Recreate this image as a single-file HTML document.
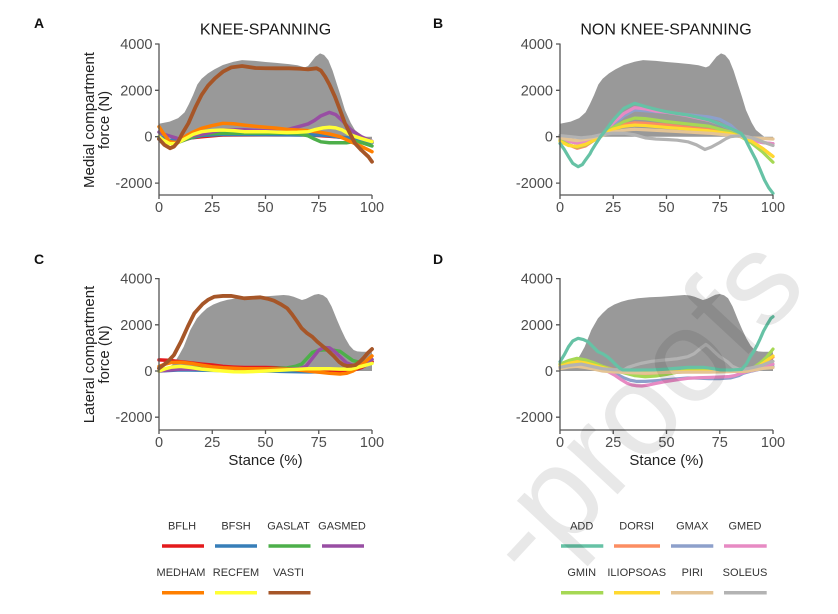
<!DOCTYPE html>
<html><head><meta charset="utf-8"><style>
html,body{margin:0;padding:0;background:#fff;width:838px;height:614px;overflow:hidden;}
svg{display:block;overflow:hidden;}
text{font-family:"Liberation Sans",Arial,sans-serif;}
.tk{font-size:14.5px;fill:#4d4d4d;}
.ax{stroke:#555;stroke-width:1.3;fill:none;}
.ln{fill:none;stroke-linejoin:round;stroke-linecap:round;}
.lg{font-size:11px;fill:#333;text-anchor:middle;}
</style></head><body>
<svg width="838" height="614" viewBox="0 0 838 614" xmlns="http://www.w3.org/2000/svg">
<rect width="838" height="614" fill="#fff"/>

<!-- Panel letters & titles -->
<text x="34" y="28" font-size="14" font-weight="bold" fill="#111">A</text>
<text x="433" y="28" font-size="14" font-weight="bold" fill="#111">B</text>
<text x="34" y="264" font-size="14" font-weight="bold" fill="#111">C</text>
<text x="433" y="264" font-size="14" font-weight="bold" fill="#111">D</text>
<text x="265.5" y="34.3" font-size="16" text-anchor="middle" fill="#1a1a1a">KNEE-SPANNING</text>
<text x="666" y="34.3" font-size="16" text-anchor="middle" fill="#1a1a1a">NON KNEE-SPANNING</text>

<!-- Y axis titles -->
<text transform="translate(94,120) rotate(-90)" font-size="15" text-anchor="middle" fill="#222">Medial compartment</text>
<text transform="translate(109,120) rotate(-90)" font-size="15" text-anchor="middle" fill="#222">force (N)</text>
<text transform="translate(94,354.5) rotate(-90)" font-size="15" text-anchor="middle" fill="#222">Lateral compartment</text>
<text transform="translate(109,354.5) rotate(-90)" font-size="15" text-anchor="middle" fill="#222">force (N)</text>

<!-- X axis titles -->
<text x="265.5" y="465" font-size="15" text-anchor="middle" fill="#222">Stance (%)</text>
<text x="666.5" y="465" font-size="15" text-anchor="middle" fill="#222">Stance (%)</text>

<!-- ============ PANEL A ============ -->
<g transform="translate(159,136.7) scale(2.13,-0.0232)">
<polygon fill="#999" points="0,0 0,560 5,650 9,800 12,1050 14,1400 16,1800 18,2250 20,2500 23,2730 26,2900 30,3090 35,3230 39,3300 45,3270 50,3220 55,3180 61,3130 65,3080 68.5,2990 70,3050 71.6,3230 73.5,3450 75.6,3594 77.5,3520 79.5,3300 81.5,2850 83.4,2300 85.5,1700 87.3,1150 90,600 92,290 95,60 96,0 96,-100 100,-100 100,0"/>
<polyline vector-effect="non-scaling-stroke" class="ln" stroke="#e41a1c" stroke-width="3.5" points="0,-100 5,-250 10,-200 15,-50 20,0 30,80 50,100 70,80 80,20 85,-20 90,-100 100,-250"/>
<polyline vector-effect="non-scaling-stroke" class="ln" stroke="#377eb8" stroke-width="3.5" points="0,0 5,-150 10,-150 15,-50 20,50 30,100 50,100 65,80 70,80 78,60 85,-20 90,-60 95,-150 100,-250"/>
<polyline vector-effect="non-scaling-stroke" class="ln" stroke="#4daf4a" stroke-width="3.5" points="0,-50 3,-200 6,-300 9,-250 13,-100 18,50 22,120 30,150 40,150 50,150 60,150 66,120 70,40 73,-100 76,-220 80,-260 88,-260 92,-200 96,-280 100,-400"/>
<polyline vector-effect="non-scaling-stroke" class="ln" stroke="#984ea3" stroke-width="3.5" points="0,200 3,80 6,0 9,-80 12,-50 16,50 20,100 25,200 30,300 40,300 50,250 55,260 60,300 65,420 70,550 73,700 76,900 80,1050 83,950 86,700 90,300 95,0 100,-200"/>
<polyline vector-effect="non-scaling-stroke" class="ln" stroke="#ff7f00" stroke-width="3.5" points="0,431 2,150 5,-215 8,-250 10,-150 13,50 16,200 20,360 25,480 30,577 35,560 40,500 45,450 50,405 55,370 60,318 65,290 70,260 75,200 80,116 85,0 90,-215 95,-420 100,-647"/>
<polyline vector-effect="non-scaling-stroke" class="ln" stroke="#ffff33" stroke-width="3.5" points="0,0 2,-150 5,-300 8,-300 10,-200 13,-50 16,100 20,216 25,270 30,290 35,260 40,216 50,216 60,180 65,190 70,216 73,300 77,380 80,405 83,380 86,290 90,72 95,-80 100,-215"/>
<polyline vector-effect="non-scaling-stroke" class="ln" stroke="#a65628" stroke-width="3.8" points="0,-100 2.5,-350 5.2,-500 7,-430 9,-215 11,150 13.8,577 17,1250 20,1800 23,2200 26.3,2517 30,2800 34,2990 39,3047 45.3,2960 50,2950 55,2948 61,2948 66,2930 70,2905 74,2948 76,2850 78,2586 80,2250 82.6,1724 85,1150 87.3,577 90,80 92,-284 95,-580 98.3,-862 100,-1078"/>
</g>
<path class="ax" d="M159,43.5 V195 H372 M155,44 H159 M155,90.3 H159 M155,136.7 H159 M155,183.1 H159 M159,195 V199 M212.25,195 V199 M265.5,195 V199 M318.75,195 V199 M372,195 V199"/>
<g class="tk" text-anchor="end">
<text x="152.5" y="49">4000</text><text x="152.5" y="95.3">2000</text><text x="152.5" y="141.7">0</text><text x="152.5" y="188">-2000</text>
</g>
<g class="tk" text-anchor="middle">
<text x="159" y="212">0</text><text x="212.25" y="212">25</text><text x="265.5" y="212">50</text><text x="318.75" y="212">75</text><text x="372" y="212">100</text>
</g>

<!-- ============ PANEL B ============ -->
<g transform="translate(560,136.7) scale(2.13,-0.0232)">
<polygon fill="#999" points="0,0 0,560 5,650 9,800 12,1050 14,1400 16,1800 18,2250 20,2500 23,2730 26,2900 30,3090 35,3230 39,3300 45,3270 50,3220 55,3180 61,3130 65,3080 68.5,2990 70,3050 71.6,3230 73.5,3450 75.6,3594 77.5,3520 79.5,3300 81.5,2850 83.4,2300 85.5,1700 87.3,1150 90,600 92,290 95,60 96,0 96,-100 100,-100 100,0"/>
<polyline vector-effect="non-scaling-stroke" class="ln" stroke="#fc8d62" stroke-width="3.2" points="0,-150 4,-350 8,-500 12,-400 16,-150 19,0 22,200 25,350 30,520 35,600 40,580 50,500 60,400 70,300 80,150 85,0 90,-200 95,-500 100,-850"/>
<polyline vector-effect="non-scaling-stroke" class="ln" stroke="#8da0cb" stroke-width="3.2" points="0,-50 4,-200 8,-280 12,-250 16,-100 19,0 22,250 25,500 30,900 35,1150 40,1120 45,1080 50,1050 55,1000 60,950 65,900 70,850 75,750 80,500 83,250 86,0 90,-150 95,-250 100,-300"/>
<polyline vector-effect="non-scaling-stroke" class="ln" stroke="#e78ac3" stroke-width="3.2" points="0,-50 4,-200 8,-280 12,-250 16,-100 19,0 22,300 25,600 30,1000 35,1250 40,1200 45,1100 50,1050 55,980 60,900 65,800 70,700 75,550 80,350 83,180 86,0 90,-150 95,-250 100,-300"/>
<polyline vector-effect="non-scaling-stroke" class="ln" stroke="#a6d854" stroke-width="3.2" points="0,-150 4,-350 8,-450 12,-350 16,-150 19,0 22,250 25,400 30,650 35,800 40,780 50,650 60,550 70,450 80,200 85,0 90,-280 95,-650 100,-1100"/>
<polyline vector-effect="non-scaling-stroke" class="ln" stroke="#ffd92f" stroke-width="3.2" points="0,-200 4,-380 8,-420 12,-330 16,-150 19,0 22,200 25,330 30,450 35,500 40,480 50,400 60,330 70,250 80,130 85,0 90,-200 95,-500 100,-850"/>
<polyline vector-effect="non-scaling-stroke" class="ln" stroke="#e5c494" stroke-width="3.2" points="0,-50 4,-120 8,-170 12,-120 16,-30 19,40 25,200 30,280 35,320 40,300 50,250 60,200 70,150 80,60 85,0 90,-50 95,-80 100,-100"/>
<polyline vector-effect="non-scaling-stroke" class="ln" stroke="#b3b3b3" stroke-width="3.2" points="0,50 5,0 10,-50 15,0 20,100 25,150 30,150 35,80 40,-50 45,-100 50,-120 55,-150 60,-220 64,-350 68,-550 71,-450 75,-250 78,-80 80,0 85,50 88,0 92,-100 96,-250 100,-380"/>
<polyline vector-effect="non-scaling-stroke" class="ln" stroke="#66c2a5" stroke-width="3.2" points="0,-290 2,-550 4,-862 6,-1150 8.5,-1293 10.5,-1200 12,-1000 14,-750 15,-575 17,-280 19,0 22,350 25,720 30,1222 35,1440 40,1300 45,1180 50,1078 55,1000 60,935 65,830 70,720 75,550 80,360 83,230 85,144 87,-100 88,-290 90,-650 92,-1000 94,-1430 96,-1868 98,-2200 100,-2440"/>
</g>
<path class="ax" d="M560,43.5 V195 H773 M556,44 H560 M556,90.3 H560 M556,136.7 H560 M556,183.1 H560 M560,195 V199 M613.25,195 V199 M666.5,195 V199 M719.75,195 V199 M773,195 V199"/>
<g class="tk" text-anchor="end">
<text x="553" y="49">4000</text><text x="553" y="95.3">2000</text><text x="553" y="141.7">0</text><text x="553" y="188">-2000</text>
</g>
<g class="tk" text-anchor="middle">
<text x="560" y="212">0</text><text x="613.25" y="212">25</text><text x="666.5" y="212">50</text><text x="719.75" y="212">75</text><text x="773" y="212">100</text>
</g>

<!-- ============ PANEL C ============ -->
<g transform="translate(159,371) scale(2.13,-0.0231)">
<polygon fill="#999" points="0,0 0,100 4,120 7,330 9.5,700 11.6,1050 14.7,1775 17.8,2280 20,2500 22.5,2714 25.5,2880 28.8,3000 32,3080 36.6,3147 42,3190 47.6,3216 53,3250 58.5,3290 61,3270 63.2,3216 65,3150 67.1,3073 69,3120 71,3216 73,3300 74.9,3333 77,3280 78.9,3147 81,2800 83.6,2208 85.5,1800 87.5,1415 89.5,1100 91.4,909 93,850 95.3,836 99.5,836 100,800 100,0"/>
<polyline vector-effect="non-scaling-stroke" class="ln" stroke="#377eb8" stroke-width="3.5" points="0,0 10,50 30,20 50,0 60,-20 70,-40 80,-40 90,0 95,150 100,400"/>
<polyline vector-effect="non-scaling-stroke" class="ln" stroke="#e41a1c" stroke-width="3.5" points="0,480 5,460 10,400 15,350 20,300 25,260 30,200 35,170 40,150 45,150 50,150 55,140 60,120 65,90 70,50 75,20 80,-30 85,-50 90,0 95,150 100,400"/>
<polyline vector-effect="non-scaling-stroke" class="ln" stroke="#4daf4a" stroke-width="3.5" points="0,0 5,100 10,150 20,120 30,100 40,80 50,90 60,130 64,200 67,300 70,600 72,800 75,900 78,920 82,900 85,850 88,650 91,450 94,380 97,420 100,500"/>
<polyline vector-effect="non-scaling-stroke" class="ln" stroke="#984ea3" stroke-width="3.5" points="0,0 10,80 20,80 40,80 60,80 66,100 69,200 72,550 75,900 77.5,1020 80,1000 82,880 85,620 88,350 91,250 95,300 100,500"/>
<polyline vector-effect="non-scaling-stroke" class="ln" stroke="#ff7f00" stroke-width="3.5" points="0,200 3,300 6,370 10,380 15,330 20,250 25,180 30,140 40,100 50,90 60,80 65,50 70,0 75,-50 80,-100 85,-130 88,-100 91,0 95,250 100,650"/>
<polyline vector-effect="non-scaling-stroke" class="ln" stroke="#ffff33" stroke-width="3.5" points="0,0 3,100 6,170 10,200 15,150 20,80 25,40 30,0 35,-30 40,-40 50,0 60,50 70,100 80,100 85,80 90,80 95,200 100,330"/>
<polyline vector-effect="non-scaling-stroke" class="ln" stroke="#a65628" stroke-width="3.8" points="0,115 2,250 4,400 7,690 10.3,1270 13.5,1920 16.6,2500 20.5,2900 23,3080 26,3216 30,3250 33.8,3250 37,3200 40,3147 44,3170 47.6,3190 51,3130 54,3045 57,2900 60.2,2714 62.5,2450 64.9,2135 67,1850 69.6,1630 72,1480 74.3,1270 76.5,1100 79,909 82,650 84.5,400 86.5,270 88.4,216 90.5,230 92.3,260 94.5,420 96.3,590 98,780 100,950"/>
</g>
<path class="ax" d="M159,278 V430 H372 M155,278.6 H159 M155,324.8 H159 M155,371 H159 M155,417.2 H159 M159,430 V434 M212.25,430 V434 M265.5,430 V434 M318.75,430 V434 M372,430 V434"/>
<g class="tk" text-anchor="end">
<text x="152.5" y="283.6">4000</text><text x="152.5" y="329.8">2000</text><text x="152.5" y="376">0</text><text x="152.5" y="422.2">-2000</text>
</g>
<g class="tk" text-anchor="middle">
<text x="159" y="447">0</text><text x="212.25" y="447">25</text><text x="265.5" y="447">50</text><text x="318.75" y="447">75</text><text x="372" y="447">100</text>
</g>

<!-- ============ PANEL D ============ -->
<g transform="translate(560,371) scale(2.13,-0.0231)">
<polygon fill="#999" points="0,0 0,100 4,120 7,330 9.5,700 11.6,1050 14.7,1775 17.8,2280 20,2500 22.5,2714 25.5,2880 28.8,3000 32,3080 36.6,3147 42,3190 47.6,3216 53,3250 58.5,3290 61,3270 63.2,3216 65,3150 67.1,3073 69,3120 71,3216 73,3300 74.9,3333 77,3280 78.9,3147 81,2800 83.6,2208 85.5,1800 87.5,1415 89.5,1100 91.4,909 93,850 95.3,836 99.5,836 100,800 100,0"/>
<polyline vector-effect="non-scaling-stroke" class="ln" stroke="#fc8d62" stroke-width="3.2" points="0,280 4,420 8,500 12,450 16,320 20,200 25,70 30,0 35,-120 40,-150 50,-100 60,-20 70,0 80,0 88,0 92,150 96,400 100,600"/>
<polyline vector-effect="non-scaling-stroke" class="ln" stroke="#8da0cb" stroke-width="3.2" points="0,200 4,300 8,350 12,300 16,200 20,100 25,-50 28,-200 30,-300 33,-400 36,-450 40,-450 45,-420 50,-380 55,-340 60,-300 65,-310 70,-330 75,-330 80,-300 84,-200 86,-100 90,0 95,100 100,200"/>
<polyline vector-effect="non-scaling-stroke" class="ln" stroke="#e78ac3" stroke-width="3.2" points="0,150 4,280 8,350 12,300 16,200 20,100 23,-50 26,-200 29,-390 31.5,-530 33.8,-606 36,-640 38.4,-650 42,-600 45,-540 49.3,-460 55,-380 60.2,-317 65,-290 71,-274 75,-260 78.9,-245 82,-200 85,-100 88,-20 92,50 96,150 100,300"/>
<polyline vector-effect="non-scaling-stroke" class="ln" stroke="#a6d854" stroke-width="3.2" points="0,300 4,450 8,550 12,480 16,350 20,200 25,50 30,-80 35,-200 40,-250 45,-220 50,-150 55,-50 60,50 65,80 70,60 75,40 80,0 88,0 91,150 94,350 97,600 100,950"/>
<polyline vector-effect="non-scaling-stroke" class="ln" stroke="#ffd92f" stroke-width="3.2" points="0,200 4,330 8,400 12,350 16,250 20,150 25,30 30,-50 35,-60 40,-60 50,-50 60,-20 70,-10 80,-20 88,0 91,100 94,250 97,450 100,650"/>
<polyline vector-effect="non-scaling-stroke" class="ln" stroke="#e5c494" stroke-width="3.2" points="0,100 4,170 8,200 12,150 16,80 20,0 25,-40 30,-60 35,-80 40,-100 50,-60 60,-50 70,-50 80,-30 88,0 92,60 96,120 100,150"/>
<polyline vector-effect="non-scaling-stroke" class="ln" stroke="#b3b3b3" stroke-width="3.2" points="0,160 5,250 10,300 15,200 20,100 25,60 30,50 32,160 35,250 38,330 43,420 49,476 55,530 60,620 63,750 66,981 68.5,1150 70,1050 72.4,836 75,620 78.6,404 81,200 84.1,70 88,100 91,160 95,250 99,400 100,420"/>
<polyline vector-effect="non-scaling-stroke" class="ln" stroke="#66c2a5" stroke-width="3.2" points="0,400 2,700 4,1050 6,1300 8.5,1415 11,1360 13.1,1270 15.5,1050 17.8,836 20,750 22.5,600 24.5,430 26.3,260 28,120 29.4,50 35,40 44,50 50,80 55,120 60,160 67.4,160 72,100 75.1,50 80,40 85.3,70 87.5,300 89.2,600 91,850 92.3,1070 94,1400 95.5,1720 97.5,2050 99,2280 100,2350"/>
</g>
<path class="ax" d="M560,278 V430 H773 M556,278.6 H560 M556,324.8 H560 M556,371 H560 M556,417.2 H560 M560,430 V434 M613.25,430 V434 M666.5,430 V434 M719.75,430 V434 M773,430 V434"/>
<g class="tk" text-anchor="end">
<text x="553" y="283.6">4000</text><text x="553" y="329.8">2000</text><text x="553" y="376">0</text><text x="553" y="422.2">-2000</text>
</g>
<g class="tk" text-anchor="middle">
<text x="560" y="447">0</text><text x="613.25" y="447">25</text><text x="666.5" y="447">50</text><text x="719.75" y="447">75</text><text x="773" y="447">100</text>
</g>

<!-- ============ LEGENDS ============ -->
<g class="lg">
<text x="182" y="529.5">BFLH</text>
<text x="236" y="529.5">BFSH</text>
<text x="288.5" y="529.5">GASLAT</text>
<text x="342" y="529.5">GASMED</text>
<text x="181" y="576">MEDHAM</text>
<text x="236" y="576">RECFEM</text>
<text x="288.5" y="576">VASTI</text>
<text x="581.7" y="529.5">ADD</text>
<text x="636.7" y="529.5">DORSI</text>
<text x="692.3" y="529.5">GMAX</text>
<text x="745" y="529.5">GMED</text>
<text x="581.7" y="576">GMIN</text>
<text x="636.7" y="576">ILIOPSOAS</text>
<text x="692.3" y="576">PIRI</text>
<text x="745" y="576">SOLEUS</text>
</g>
<g stroke-width="3.5">
<line x1="162" y1="546" x2="204" y2="546" stroke="#e41a1c"/>
<line x1="215" y1="546" x2="257" y2="546" stroke="#377eb8"/>
<line x1="268.5" y1="546" x2="310.5" y2="546" stroke="#4daf4a"/>
<line x1="322" y1="546" x2="364" y2="546" stroke="#984ea3"/>
<line x1="162" y1="592.7" x2="204" y2="592.7" stroke="#ff7f00"/>
<line x1="215" y1="592.7" x2="257" y2="592.7" stroke="#ffff33"/>
<line x1="268.5" y1="592.7" x2="310.5" y2="592.7" stroke="#a65628"/>
<line x1="561" y1="546" x2="603.3" y2="546" stroke="#66c2a5"/>
<line x1="614" y1="546" x2="660" y2="546" stroke="#fc8d62"/>
<line x1="671" y1="546" x2="713.3" y2="546" stroke="#8da0cb"/>
<line x1="724" y1="546" x2="766.7" y2="546" stroke="#e78ac3"/>
<line x1="561" y1="592.7" x2="603.3" y2="592.7" stroke="#a6d854"/>
<line x1="614" y1="592.7" x2="660" y2="592.7" stroke="#ffd92f"/>
<line x1="671" y1="592.7" x2="713.3" y2="592.7" stroke="#e5c494"/>
<line x1="724" y1="592.7" x2="766.7" y2="592.7" stroke="#b3b3b3"/>
</g>

<!-- watermark (only the part that fits inside the frame) -->
<text transform="translate(810,288) rotate(-47)" font-size="131" text-anchor="end" fill="#000" fill-opacity="0.09">-proofs</text>
</svg>
</body></html>
